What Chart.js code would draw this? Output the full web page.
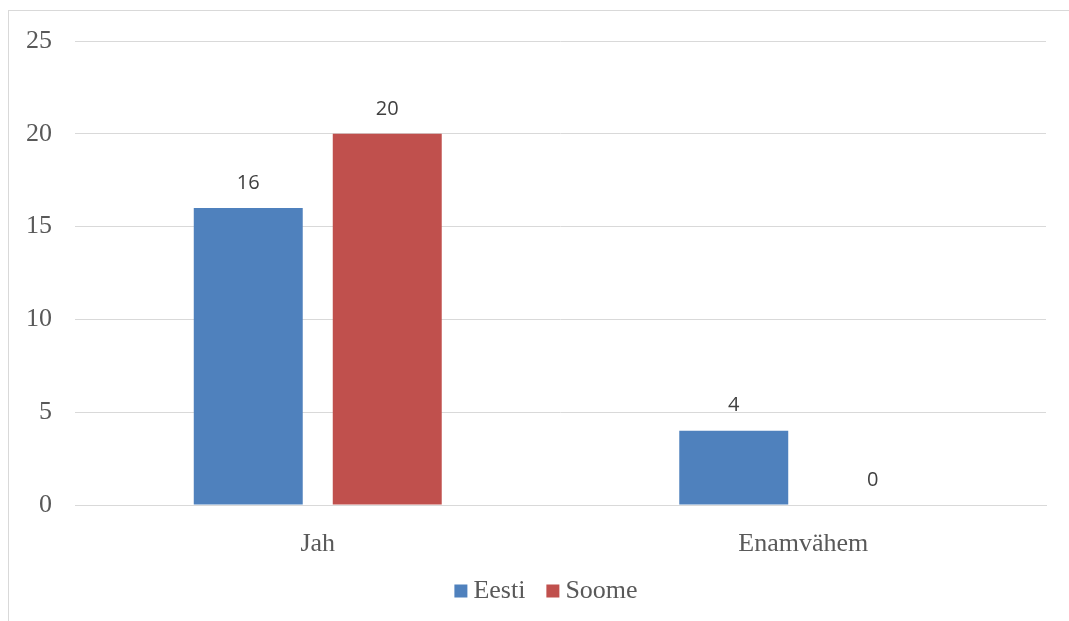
<!DOCTYPE html>
<html>
<head>
<meta charset="utf-8">
<script src="https://cdn.jsdelivr.net/npm/chart.js@4/dist/chart.umd.min.js"></script>
<style>
  html, body { margin: 0; padding: 0; background: #fff; }
  #wrap { position: relative; width: 1069px; height: 621px; overflow: hidden; }
  #frame { position: absolute; left: 8px; top: 10px; width: 1100px; height: 700px; border: 1px solid #d9d9d9; }
  canvas { position: absolute; left: 0; top: 0; }
</style>
</head>
<body>
<div id="wrap">
  <div id="frame"></div>
  <canvas id="chart" width="1069" height="621"></canvas>
</div>
<script>
var categories = ["Jah", "Enamvähem"];
var eesti = [16, 4];
var soome = [20, 0];
var yTicks = [0, 5, 10, 15, 20, 25];

var serif = "Liberation Serif, Times New Roman, serif";
var sans = "Open Sans, Liberation Sans, sans-serif";

// value labels above each bar
var barValues = {
	id: "barValues",
	afterDatasetsDraw: function (chart) {
		var ctx = chart.ctx;
		ctx.save();
		ctx.font = "20px " + sans;
		ctx.fillStyle = "#404040";
		ctx.textAlign = "center";
		ctx.textBaseline = "middle";
		chart.data.datasets.forEach(function (ds, i) {
			chart.getDatasetMeta(i).data.forEach(function (bar, j) {
				ctx.fillText(String(ds.data[j]), bar.x, bar.y - 25);
			});
		});
		ctx.restore();
	},
};

// compact legend under the axis (small square, tight gap to text)
var bottomLegend = {
	id: "bottomLegend",
	afterDraw: function (chart) {
		var ctx = chart.ctx;
		var box = 13, gap = 6, spacing = 21, cx = 546, cy = 591;
		ctx.save();
		ctx.font = "26px " + serif;
		ctx.textBaseline = "middle";
		var items = chart.data.datasets.map(function (ds) {
			return { text: ds.label, color: ds.backgroundColor, w: ctx.measureText(ds.label).width };
		});
		var total = items.reduce(function (s, it) { return s + box + gap + it.w; }, 0) + spacing * (items.length - 1);
		var x = cx - total / 2;
		items.forEach(function (it) {
			ctx.fillStyle = it.color;
			ctx.fillRect(x, cy - box / 2, box, box);
			x += box + gap;
			ctx.fillStyle = "#595959";
			ctx.fillText(it.text, x, cy);
			x += it.w + spacing;
		});
		ctx.restore();
	},
};

var ctx = document.getElementById("chart").getContext("2d");
new Chart(ctx, {
	type: "bar",
	data: {
		labels: categories,
		datasets: [
			{ label: "Eesti", data: eesti, backgroundColor: "#4f81bd" },
			{ label: "Soome", data: soome, backgroundColor: "#c0504d" },
		],
	},
	options: {
		responsive: false,
		animation: false,
		categoryPercentage: 0.5726,
		barPercentage: 0.784,
		layout: { padding: { left: 0, right: 23, top: 41, bottom: 0 } },
		plugins: {
			legend: { display: false },
			tooltip: { enabled: false },
		},
		scales: {
			x: {
				grid: { display: false },
				border: { display: true, color: "#d9d9d9" },
				ticks: { font: { family: serif, size: 26 }, color: "#595959", padding: 16 },
				afterFit: function (scale) {
					scale.height = 116;
				},
			},
			y: {
				min: 0,
				max: 25,
				afterBuildTicks: function (scale) {
					scale.ticks = yTicks.map(function (v) { return { value: v }; });
				},
				grid: { color: "#d9d9d9", drawTicks: false },
				border: { display: false },
				ticks: { font: { family: serif, size: 26 }, color: "#595959", padding: 23 },
				afterFit: function (scale) {
					scale.width = 75;
				},
			},
		},
	},
	plugins: [barValues, bottomLegend],
});
</script>
</body>
</html>
